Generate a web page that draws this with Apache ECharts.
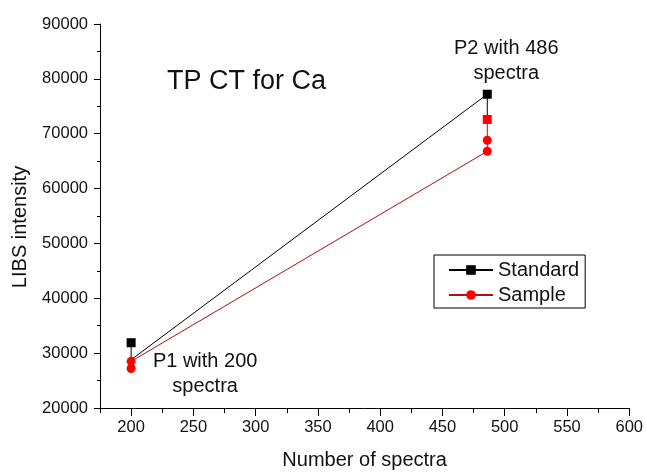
<!DOCTYPE html>
<html>
<head>
<meta charset="utf-8">
<script src="https://cdn.jsdelivr.net/npm/echarts@6/dist/echarts.min.js"></script>
<style>
html,body{margin:0;padding:0;background:#fff;}
#chart{width:646px;height:475px;}
</style>
</head>
<body>
<div id="chart"></div>
<script>
// ---- data ----
var standardX = [200, 200, 486, 486];
var standardY = [31900, 28800, 77200, 72600];
var standardMarker = ['rect', 'none', 'rect', 'none'];

var sampleX = [200, 200, 486, 486, 486];
var sampleY = [27200, 28500, 66800, 68800, 72600];
var sampleMarker = ['circle', 'circle', 'circle', 'circle', 'rect'];

var titleText = 'TP CT for Ca';
var noteP1 = 'P1 with 200\nspectra';
var noteP2 = 'P2 with 486\nspectra';

var xMin = 175, xMax = 600, xStep = 25, xMajor = 50;
var yMin = 20000, yMax = 90000, yStep = 10000;

// ---- build ----
var FONT = 'Liberation Sans, Arial, sans-serif';

var standardData = standardX.map(function (x, i) {
  var d = { value: [x, standardY[i]], symbol: standardMarker[i] };
  if (i === 2) {
    d.label = {
      show: true, formatter: noteP2, position: 'inside', align: 'center',
      verticalAlign: 'middle', offset: [19, -33], fontSize: 20, lineHeight: 25,
      color: '#111', fontFamily: FONT
    };
  }
  return d;
});
var sampleData = sampleX.map(function (x, i) {
  var d = { value: [x, sampleY[i]], symbol: sampleMarker[i] };
  if (i === 1) {
    d.label = {
      show: true, formatter: noteP1, position: 'inside', align: 'center',
      verticalAlign: 'middle', offset: [74, 13], fontSize: 20, lineHeight: 25,
      color: '#111', fontFamily: FONT
    };
  }
  return d;
});

var tickCats = [];
for (var v = xMin; v <= xMax; v += xStep) tickCats.push(String(v));

var chart = echarts.init(document.getElementById('chart'), null, { renderer: 'canvas' });
chart.setOption({
  animation: false,
  backgroundColor: '#fff',
  textStyle: { fontFamily: FONT },
  title: {
    text: titleText, left: 167, top: 68, padding: 0,
    textStyle: { fontSize: 27, fontWeight: 'normal', color: '#111', fontFamily: FONT }
  },
  legend: {
    orient: 'vertical', left: 434, top: 255,
    padding: [5, 6, 3, 14], itemGap: 5,
    itemWidth: 44, itemHeight: 12,
    borderColor: '#000', borderWidth: 1, borderRadius: 0,
    textStyle: { fontSize: 20, color: '#111', fontFamily: FONT },
    data: ['Standard', 'Sample']
  },
  grid: { left: 100, right: 16, top: 24, bottom: 62, containLabel: false },
  xAxis: [{
    type: 'value', min: xMin, max: xMax, interval: xStep, position: 'bottom',
    name: 'Number of spectra', nameLocation: 'middle', nameGap: 42,
    nameTextStyle: { fontSize: 20, color: '#111', fontFamily: FONT },
    axisLine: { show: true, onZero: false, lineStyle: { color: '#000', width: 1 } },
    axisTick: { show: true, inside: false, length: 5, lineStyle: { color: '#000' } },
    axisLabel: {
      fontSize: 16.5, color: '#111', margin: 11, fontFamily: FONT,
      formatter: function (val) { return (val % xMajor === 0) ? String(val) : ''; }
    },
    splitLine: { show: false }
  }, {
    type: 'category', data: tickCats, boundaryGap: false, position: 'bottom',
    axisLine: { show: false },
    axisTick: {
      show: true, length: 8, lineStyle: { color: '#000' },
      interval: function (idx, val) { return Number(val) % xMajor === 0; }
    },
    axisLabel: { show: false },
    splitLine: { show: false }
  }],
  yAxis: {
    type: 'value', min: yMin, max: yMax, interval: yStep,
    name: 'LIBS intensity', nameLocation: 'middle', nameGap: 70, nameRotate: 90,
    nameTextStyle: { fontSize: 20, color: '#111', fontFamily: FONT, padding: [0, 22, 0, 0] },
    axisLine: { show: true, onZero: false, lineStyle: { color: '#000', width: 1 } },
    axisTick: { show: true, length: 6, lineStyle: { color: '#000' } },
    minorTick: { show: true, splitNumber: 2, length: 3, lineStyle: { color: '#000' } },
    axisLabel: {
      fontSize: 16.5, color: '#111', margin: 12, fontFamily: FONT,
      formatter: function (val) { return String(val); }
    },
    splitLine: { show: false }
  },
  series: [{
    name: 'Standard', type: 'line', xAxisIndex: 0, data: standardData,
    symbol: 'rect', symbolSize: 9, showAllSymbol: true,
    lineStyle: { color: '#000', width: 1 },
    itemStyle: { color: '#000' },
    emphasis: { disabled: true }, z: 2
  }, {
    name: 'Sample', type: 'line', xAxisIndex: 0, data: sampleData,
    symbol: 'circle', symbolSize: 9, showAllSymbol: true,
    lineStyle: { color: '#b01010', width: 1 },
    itemStyle: { color: '#ff0000' },
    emphasis: { disabled: true }, z: 3
  }]
});
</script>
</body>
</html>
